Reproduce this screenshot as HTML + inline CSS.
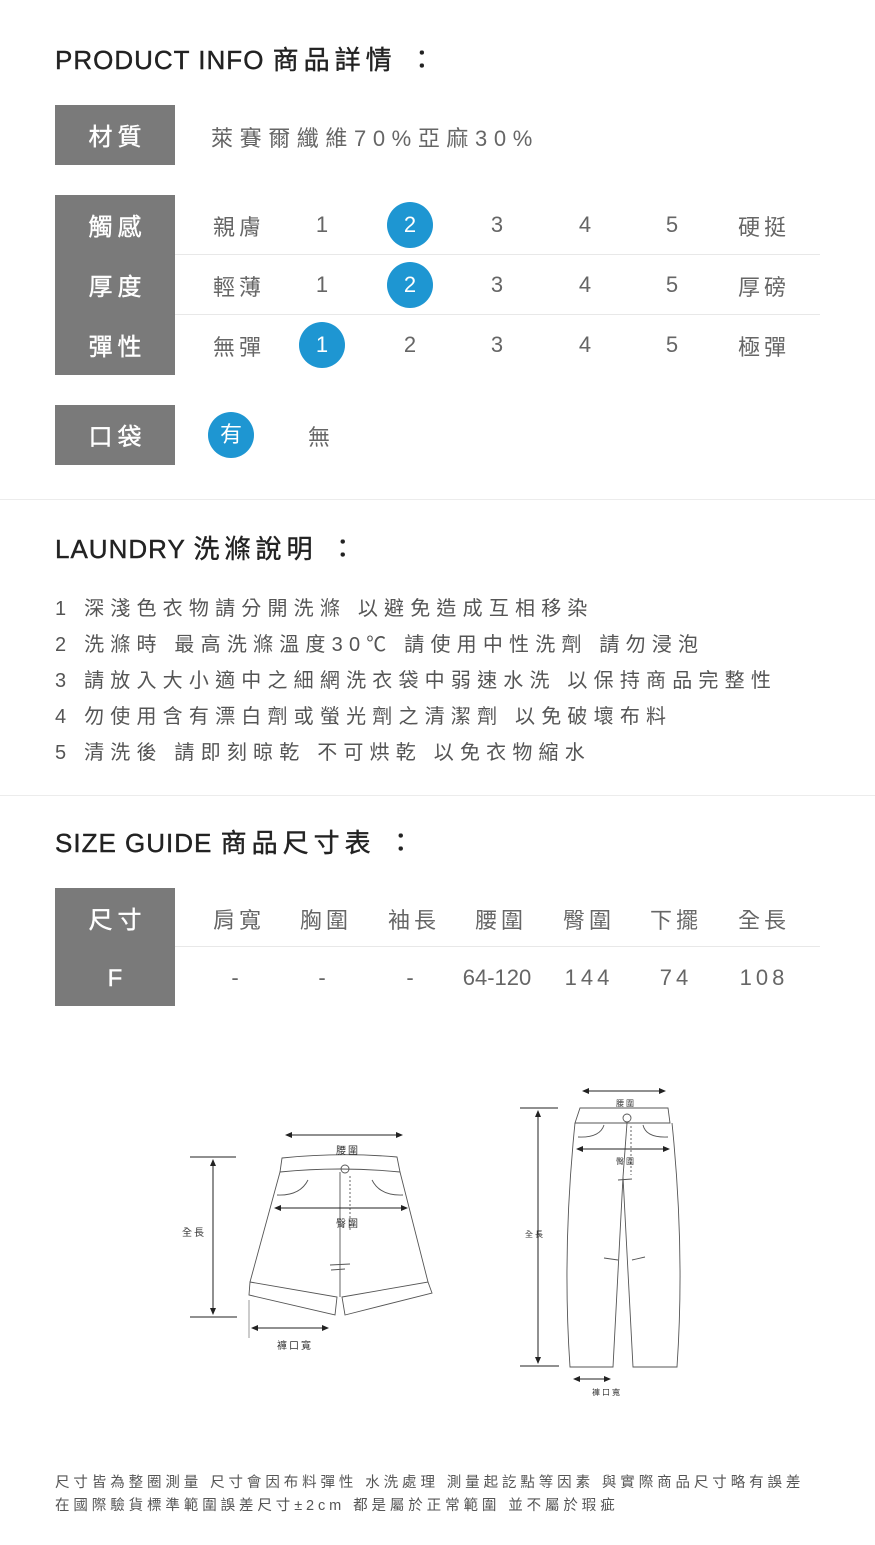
<!DOCTYPE html>
<html><head><meta charset="utf-8"><style>
*{margin:0;padding:0;box-sizing:border-box}
body{width:875px;height:1545px;background:#fff;position:relative;overflow:hidden;font-family:"Liberation Sans","Noto Sans CJK TC",sans-serif;color:#666}
.a{position:absolute;white-space:nowrap}
.h{font-size:26px;color:#222;letter-spacing:1px;left:55px;-webkit-text-stroke:0.4px #222}
.h span{letter-spacing:5px}
.box{position:absolute;left:55px;width:120px;height:60px;background:#7a7a7a;color:#fff;font-size:24px;letter-spacing:5px;text-align:center;line-height:66px;padding-left:5px;-webkit-text-stroke:0.4px #fff}
.c{position:absolute;width:60px;margin-left:-30px;text-align:center;font-size:22px;color:#666}
.cw{letter-spacing:4px;padding-left:4px;width:90px;margin-left:-45px}
.dot{position:absolute;width:46px;height:46px;margin-left:-23px;border-radius:50%;background:#1e96d2;color:#fff;font-size:22px;text-align:center;line-height:46px}
.line{position:absolute;left:175px;width:645px;height:1px;background:#e8e8e8}
.sep{position:absolute;left:0;width:875px;height:1px;background:#ececec}
.l{left:55px;font-size:20px;letter-spacing:6.2px;color:#555}
.f{left:55px;font-size:14.5px;letter-spacing:3.9px;color:#555}
</style></head><body>
<div class="a h" style="top:40px">PRODUCT INFO <span>商品詳情 ：</span></div>
<div class="box" style="top:105px">材質</div>
<div class="a" style="left:211px;top:121px;font-size:22px;letter-spacing:6.6px">萊賽爾纖維70%亞麻30%</div>

<div class="box" style="top:195px">觸感</div>
<div class="box" style="top:255px">厚度</div>
<div class="box" style="top:315px">彈性</div>
<div class="line" style="top:254px"></div>
<div class="line" style="top:314px"></div>

<div class="c cw" style="left:237px;top:210px">親膚</div>
<div class="c" style="left:322px;top:212px">1</div>
<div class="dot" style="left:410px;top:202px">2</div>
<div class="c" style="left:497px;top:212px">3</div>
<div class="c" style="left:585px;top:212px">4</div>
<div class="c" style="left:672px;top:212px">5</div>
<div class="c cw" style="left:762px;top:210px">硬挺</div>

<div class="c cw" style="left:237px;top:270px">輕薄</div>
<div class="c" style="left:322px;top:272px">1</div>
<div class="dot" style="left:410px;top:262px">2</div>
<div class="c" style="left:497px;top:272px">3</div>
<div class="c" style="left:585px;top:272px">4</div>
<div class="c" style="left:672px;top:272px">5</div>
<div class="c cw" style="left:762px;top:270px">厚磅</div>

<div class="c cw" style="left:237px;top:330px">無彈</div>
<div class="dot" style="left:322px;top:322px">1</div>
<div class="c" style="left:410px;top:332px">2</div>
<div class="c" style="left:497px;top:332px">3</div>
<div class="c" style="left:585px;top:332px">4</div>
<div class="c" style="left:672px;top:332px">5</div>
<div class="c cw" style="left:762px;top:330px">極彈</div>

<div class="box" style="top:405px">口袋</div>
<div class="dot" style="left:231px;top:412px">有</div>
<div class="c" style="left:319px;top:420px">無</div>

<div class="sep" style="top:499px"></div>
<div class="a h" style="top:529px">LAUNDRY <span>洗滌說明 ：</span></div>
<div class="a l" style="top:592px">1 深淺色衣物請分開洗滌 以避免造成互相移染</div>
<div class="a l" style="top:628px">2 洗滌時 最高洗滌溫度30℃ 請使用中性洗劑 請勿浸泡</div>
<div class="a l" style="top:664px">3 請放入大小適中之細網洗衣袋中弱速水洗 以保持商品完整性</div>
<div class="a l" style="top:700px">4 勿使用含有漂白劑或螢光劑之清潔劑 以免破壞布料</div>
<div class="a l" style="top:736px">5 清洗後 請即刻晾乾 不可烘乾 以免衣物縮水</div>

<div class="sep" style="top:795px"></div>
<div class="a h" style="top:823px">SIZE GUIDE <span>商品尺寸表 ：</span></div>
<div class="box" style="top:888px">尺寸</div>
<div class="box" style="top:947px;height:59px;line-height:63px">F</div>
<div class="line" style="top:946px"></div>
<div class="c cw" style="left:237px;top:903px">肩寬</div>
<div class="c cw" style="left:324px;top:903px">胸圍</div>
<div class="c cw" style="left:412px;top:903px">袖長</div>
<div class="c cw" style="left:499px;top:903px">腰圍</div>
<div class="c cw" style="left:587px;top:903px">臀圍</div>
<div class="c cw" style="left:674px;top:903px">下擺</div>
<div class="c cw" style="left:762px;top:903px">全長</div>
<div class="c" style="left:235px;top:965px">-</div>
<div class="c" style="left:322px;top:965px">-</div>
<div class="c" style="left:410px;top:965px">-</div>
<div class="c" style="left:497px;top:965px;width:90px;margin-left:-45px">64-120</div>
<div class="c cw" style="left:587px;top:965px">144</div>
<div class="c cw" style="left:674px;top:965px">74</div>
<div class="c cw" style="left:762px;top:965px">108</div>

<svg class="a" style="left:0;top:0" width="875" height="1545" viewBox="0 0 875 1545">
<defs><marker id="m" markerWidth="8" markerHeight="8" refX="6" refY="4" orient="auto-start-reverse"><path d="M0,1 L7,4 L0,7z" fill="#222"/></marker></defs>
<g stroke="#555" stroke-width="0.9" fill="none">
<path d="M282,1158 Q340,1152 397,1157 L400,1172 Q340,1166 280,1172 Z"/>
<path d="M280,1172 L250,1282 M400,1172 L428,1282"/>
<path d="M250,1282 L337,1297 L335,1315 L249,1295 Z M342,1297 L428,1282 L432,1293 L345,1315 Z"/>
<path d="M340,1172 L340,1297"/>
<path d="M277,1195 Q300,1196 308,1180 M403,1195 Q380,1196 372,1180"/>
<circle cx="345" cy="1169" r="4"/>
<path d="M350,1176 L350,1230" stroke-dasharray="2,2"/>
<path d="M330,1265 L350,1264 M331,1270 L345,1269"/>
<path d="M580,1108 L668,1108 L670,1123 L575,1123 Z"/>
<path d="M575,1123 Q562,1250 570,1367 L613,1367 L623,1177 L633,1367 L677,1367 Q685,1250 672,1123"/>
<circle cx="627" cy="1118" r="4"/>
<path d="M627,1123 L623,1177"/>
<path d="M631,1126 L631,1175" stroke-dasharray="2,2"/>
<path d="M578,1137 Q600,1138 604,1125 M668,1137 Q646,1138 643,1125"/>
<path d="M618,1180 L632,1179 M604,1258 L618,1260 M632,1260 L645,1257"/>
</g>
<g stroke="#222" stroke-width="1">
<line x1="286" y1="1135" x2="402" y2="1135" marker-start="url(#m)" marker-end="url(#m)"/>
<line x1="275" y1="1208" x2="407" y2="1208" marker-start="url(#m)" marker-end="url(#m)"/>
<line x1="213" y1="1160" x2="213" y2="1314" marker-start="url(#m)" marker-end="url(#m)"/>
<line x1="190" y1="1157" x2="236" y2="1157"/>
<line x1="190" y1="1317" x2="237" y2="1317"/>
<line x1="252" y1="1328" x2="328" y2="1328" marker-start="url(#m)" marker-end="url(#m)"/>
<line x1="249" y1="1300" x2="249" y2="1338" stroke="#999"/>
<line x1="583" y1="1091" x2="665" y2="1091" marker-start="url(#m)" marker-end="url(#m)"/>
<line x1="577" y1="1149" x2="669" y2="1149" marker-start="url(#m)" marker-end="url(#m)"/>
<line x1="538" y1="1111" x2="538" y2="1363" marker-start="url(#m)" marker-end="url(#m)"/>
<line x1="520" y1="1108" x2="558" y2="1108"/>
<line x1="520" y1="1366" x2="559" y2="1366"/>
<line x1="574" y1="1379" x2="610" y2="1379" marker-start="url(#m)" marker-end="url(#m)"/>
</g>
<g font-family="Liberation Sans,Noto Sans CJK TC,sans-serif" fill="#333" font-size="10" text-anchor="middle" letter-spacing="2">
<text x="348" y="1154">腰圍</text>
<text x="348" y="1227">臀圍</text>
<text x="194" y="1236">全長</text>
<text x="295" y="1349">褲口寬</text>
<text x="626" y="1106" font-size="8">腰圍</text>
<text x="626" y="1164" font-size="8">臀圍</text>
<text x="535" y="1237" font-size="8">全長</text>
<text x="607" y="1395" font-size="8">褲口寬</text>
</g>
</svg>

<div class="a f" style="top:1471px">尺寸皆為整圈測量 尺寸會因布料彈性 水洗處理 測量起訖點等因素 與實際商品尺寸略有誤差</div>
<div class="a f" style="top:1494px">在國際驗貨標準範圍誤差尺寸±2cm 都是屬於正常範圍 並不屬於瑕疵</div>
</body></html>
